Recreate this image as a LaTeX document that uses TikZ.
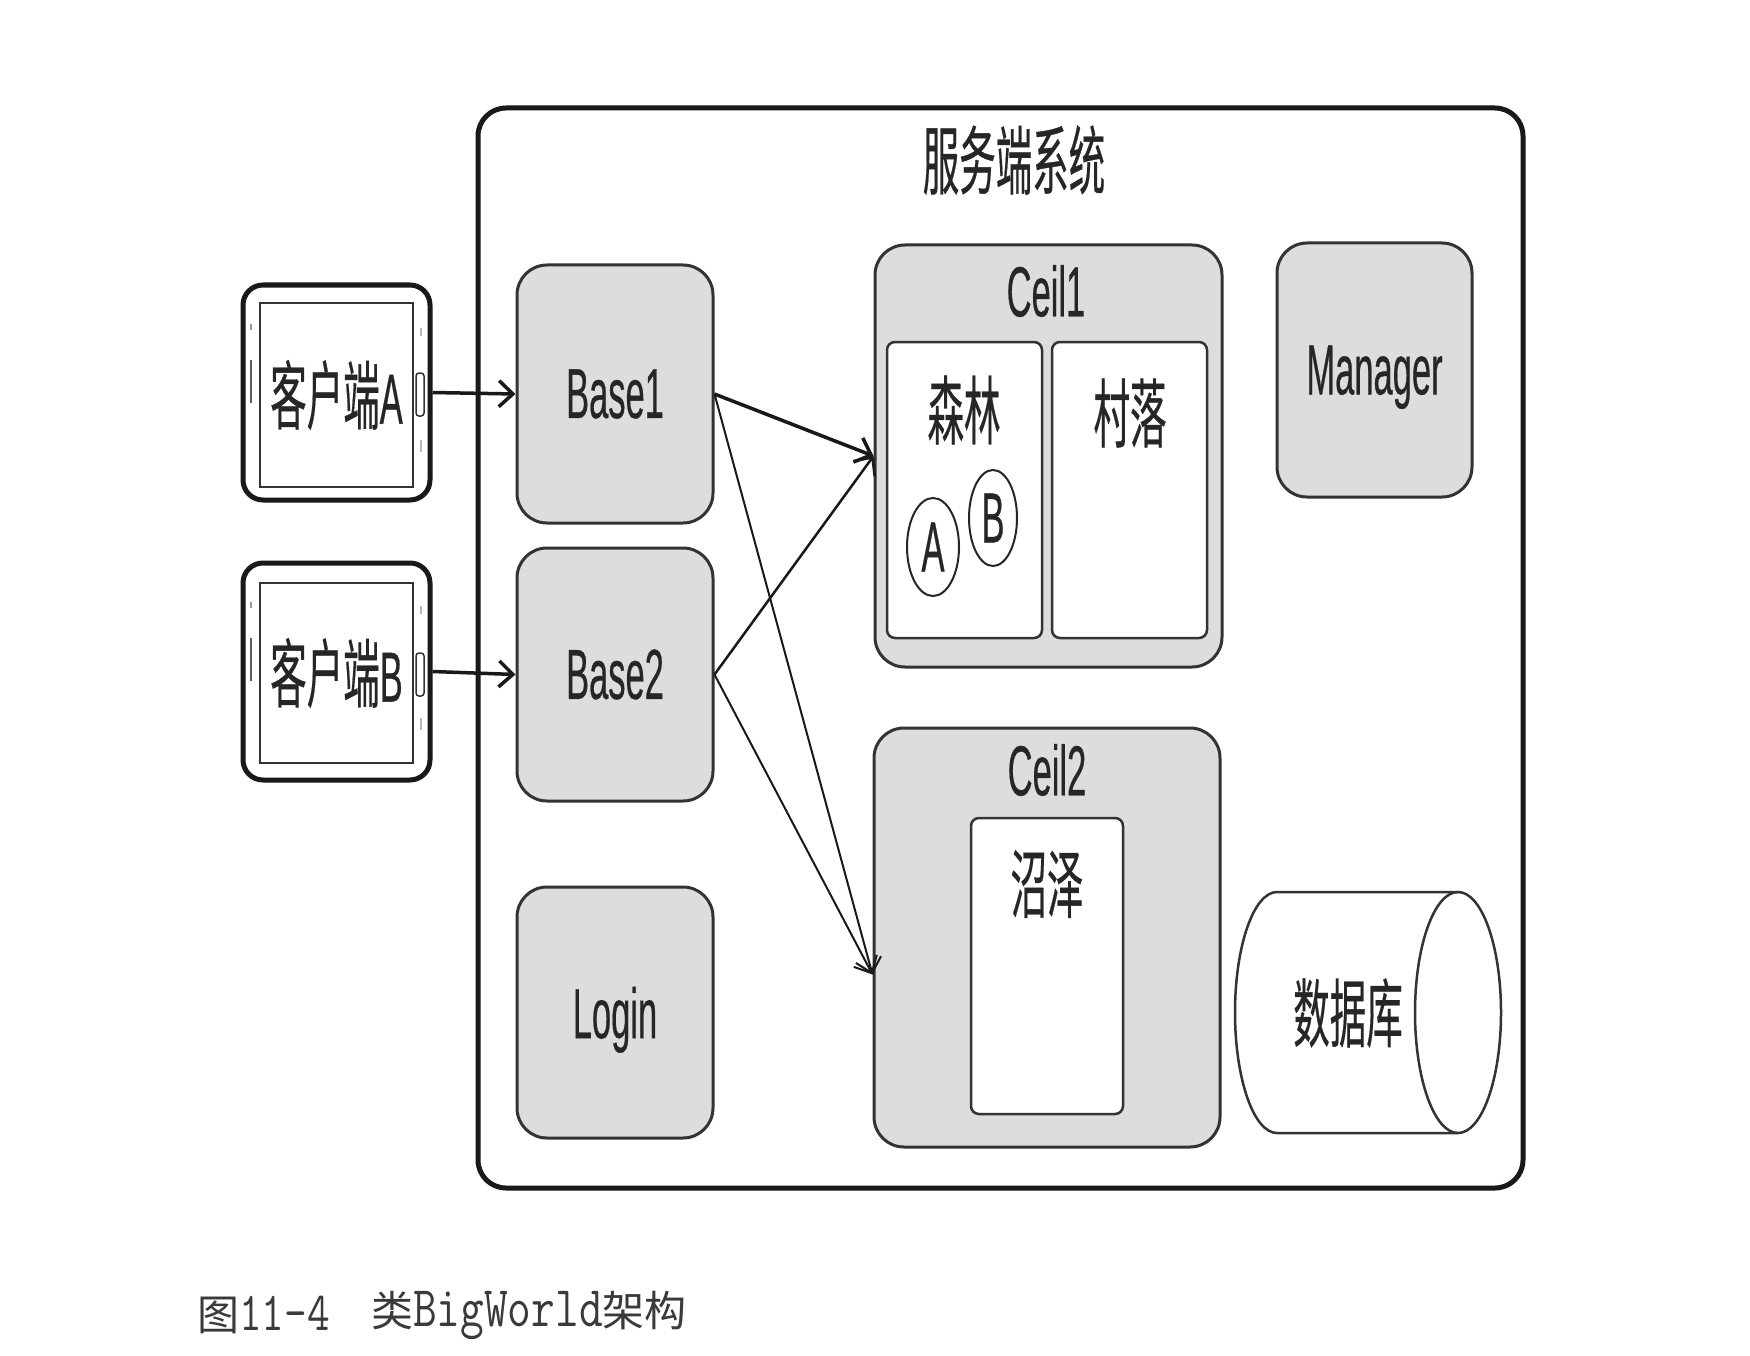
\documentclass[tikz,border=0pt]{standalone}
\usepackage{fontspec}
\usepackage{graphicx}
\setmainfont{Liberation Sans}[FakeBold=0.6]
\newfontfamily\cjk{Noto Sans CJK SC}[FakeBold=0.5]
\newfontfamily\cjkcap{Noto Sans CJK SC}
\usetikzlibrary{arrows.meta,shapes.geometric,calc}
\definecolor{boxgray}{RGB}{221,221,221}
\definecolor{edge}{RGB}{51,51,51}
\definecolor{captc}{RGB}{58,58,58}
\newcommand\stt[1]{\scalebox{1}[2.05]{#1}}
\newcommand\cjkfs{\cjk\fontsize{36.5}{40}\selectfont}
\newcommand\capmono[2]{\scalebox{1}[1.25]{\fontsize{#1}{48}\selectfont\ttfamily #2}}
\newcommand\capcjk[1]{{\cjkcap\fontsize{42}{46}\selectfont #1}}
\begin{document}
\begin{tikzpicture}[x=1pt,y=-1pt,
  lbl/.style={font=\fontsize{34.5}{40}\selectfont, text=black!85},
  graybox/.style={draw=edge, line width=3pt, fill=boxgray, rounded corners=30pt, inner sep=0pt, lbl},
  whitebox/.style={draw=edge, line width=2.5pt, fill=white, rounded corners=8pt, inner sep=0pt},
  txt/.style={inner sep=0pt, lbl},
  ent/.style={ellipse, draw=black!85, line width=2pt, inner sep=0pt, fill=white, lbl},
  conn/.style={draw=black!90, -{Straight Barb[length=14pt,width=26pt]}},
  clientouter/.style={draw=black!90, line width=5pt, rounded corners=20pt, fill=white, minimum width=187pt},
  clientinner/.style={draw=edge, line width=2.5pt, inner sep=0pt, minimum width=153pt, lbl},
  deco/.style={line width=1.5pt}
]
\fill[white] (0,0) rectangle (1750,1356);
\useasboundingbox (0,0) rectangle (1750,1356);

% server system frame
\node[draw=black!90, line width=5pt, rounded corners=28pt, minimum width=1045pt, minimum height=1080pt, inner sep=0pt] (sys) at (1000.5,648) {};
\node[txt] (title) at (1014,160) {\stt{\cjkfs 服务端系统}};

% clients
\node[clientouter, minimum height=215pt] (cliA) at (336.5,392.5) {};
\node[clientinner, minimum height=184pt] (cliAin) at (336.5,395) {\stt{{\cjkfs 客户端}A}};
\node[clientouter, minimum height=217pt] (cliB) at (336.5,671.5) {};
\node[clientinner, minimum height=180pt] (cliBin) at (336.5,673) {\stt{{\cjkfs 客户端}B}};
\foreach \oy/\by in {0/0,278/280} {
  \draw[deco, draw=edge!80] (251,360+\oy) -- (251,403+\oy);
  \draw[deco, draw=edge!50] (251,324+\oy) -- (251,330+\oy);
  \draw[deco, draw=edge, rounded corners=3pt] (416,373+\by) rectangle (424,416+\by);
  \draw[deco, draw=edge!35] (421,328+\oy) -- (421,336+\oy);
  \draw[deco, draw=edge!35] (421,440+\oy) -- (421,452+\oy);
}

% bases and login
\node[graybox, minimum width=196pt, minimum height=258pt] (base1) at (615,394) {\stt{Base1}};
\node[graybox, minimum width=196pt, minimum height=253pt] (base2) at (615,674.5) {\stt{Base2}};
\node[graybox, minimum width=196pt, minimum height=251pt, text depth=0pt] (login) at (615,1012.5) {\stt{Login}};

% Ceil1
\node[graybox, minimum width=347pt, minimum height=422pt] (ceil1) at (1048.5,456) {};
\node[txt] (ceil1t) at (1046,291) {\stt{Ceil1}};
\node[whitebox, minimum width=155pt, minimum height=296pt] (forest) at (964.5,490) {};
\node[txt] (forestt) at (964,410) {\stt{\cjkfs 森林}};
\node[whitebox, minimum width=155pt, minimum height=296pt] (village) at (1129.5,490) {};
\node[txt] (villaget) at (1130,413) {\stt{\cjkfs 村落}};
\node[ent, minimum width=52pt, minimum height=98pt] (entA) at (933,547) {\stt{A}};
\node[ent, minimum width=48pt, minimum height=96pt] (entB) at (993,518) {\stt{B}};

% Ceil2
\node[graybox, minimum width=346pt, minimum height=419pt] (ceil2) at (1047,937.5) {};
\node[txt] (ceil2t) at (1047,770) {\stt{Ceil2}};
\node[whitebox, minimum width=152pt, minimum height=296pt] (swamp) at (1047,966) {};
\node[txt] (swampt) at (1047,884) {\stt{\cjkfs 沼泽}};

% Manager
\node[graybox, minimum width=195pt, minimum height=254pt, text depth=0pt] (mgr) at (1374.5,370) {\stt{Manager}};

% database cylinder
\draw[draw=edge, line width=2.5pt, fill=white]
  (1277,892) -- (1458,892) arc[start angle=-90, end angle=90, x radius=43, y radius=120.5]
  -- (1277,1133) arc[start angle=90, end angle=270, x radius=42, y radius=120.5] -- cycle;
\draw[draw=edge, line width=2.5pt] (1458,892) arc[start angle=270, end angle=90, x radius=43, y radius=120.5];
\node[txt] (db) at (1348,1013) {\stt{\cjkfs 数据库}};

% connectors
\coordinate (c2in) at ($(ceil2.west)+(0,37)$);
\draw[conn, line width=3.5pt] (cliA.east) -- (base1.west);
\draw[conn, line width=3.5pt] (cliB.east) -- (base2.west);
\draw[conn, line width=3.5pt] (base1.east) -- (ceil1.west);
\draw[conn, line width=2pt] (base1.east) -- (c2in);
\draw[conn, line width=2.5pt] (base2.east) -- (ceil1.west);
\draw[conn, line width=2pt] (base2.east) -- (c2in);

% caption
\node[anchor=west, inner sep=0pt, text=captc] (cap1) at (197,1315) {\capcjk{图}\capmono{44}{11-4}};
\node[anchor=west, inner sep=0pt, text=captc] (cap2) at (371,1315) {\capcjk{类}\capmono{46}{BigWorld}\capcjk{架构}};
\end{tikzpicture}
\end{document}
